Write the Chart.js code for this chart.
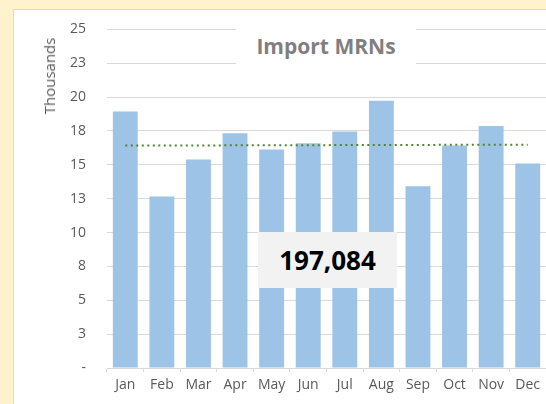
<!DOCTYPE html>
<html>
<head>
<meta charset="utf-8">
<script src="https://cdn.jsdelivr.net/npm/chart.js@4.4.1/dist/chart.umd.min.js"></script>
<style>
  html, body { margin: 0; padding: 0; }
  body { width: 546px; height: 404px; overflow: hidden; background: #fff2cc; position: relative; font-family: "Open Sans", sans-serif; }
  #frame { position: absolute; left: 13px; top: 9px; width: 600px; height: 450px; background: #fff; border: 1px solid #d9d9d9; }
  #wrap { position: absolute; left: 0; top: 0; width: 546px; height: 404px; }
  #unit { position: absolute; left: 49px; top: 76px; transform: translate(-50%, -50%) rotate(-90deg); color: #595959; font-size: 15px; white-space: nowrap; }
  #title { position: absolute; left: 236px; top: 22px; width: 180px; height: 48px; background: #fff; color: #7f7f7f; font-weight: bold; font-size: 21px; line-height: 48px; text-align: center; }
  #total { position: absolute; left: 258px; top: 232px; width: 139px; height: 56px; background: #f2f2f2; color: #000; font-weight: bold; font-size: 26px; line-height: 56px; text-align: center; }
</style>
</head>
<body>
<div id="frame"></div>
<div id="wrap"><canvas id="chart"></canvas></div>
<div id="unit">Thousands</div>
<div id="title">Import MRNs</div>
<div id="total"></div>
<script>
// monthly import MRNs
const months = ['Jan', 'Feb', 'Mar', 'Apr', 'May', 'Jun', 'Jul', 'Aug', 'Sep', 'Oct', 'Nov', 'Dec'];
const mrns = [18940, 12660, 15400, 17330, 16140, 16600, 17460, 19740, 13410, 16430, 17870, 15104];
// linear trendline, read at Jan and Dec
const trendMonths = ['Jan', 'Dec'];
const trendValues = [16420, 16490];
const yTicks = [0, 2500, 5000, 7500, 10000, 12500, 15000, 17500, 20000, 22500, 25000];

let total = 0;
mrns.forEach((v) => { total += v; });
document.getElementById('total').textContent = total.toLocaleString('en-US');

const trendData = trendMonths.map((m, i) => ({ x: m, y: trendValues[i] }));
const tickFont = { family: 'Open Sans', size: 14 };

new Chart(document.getElementById('chart'), {
  type: 'bar',
  data: {
    labels: months,
    datasets: [
      {
        type: 'line',
        data: trendData,
        borderColor: '#548235',
        borderWidth: 2,
        borderDash: [2, 3.5],
        pointRadius: 0,
        fill: false,
        order: 0
      },
      {
        data: mrns,
        backgroundColor: '#9dc3e6',
        categoryPercentage: 1,
        barPercentage: 0.68,
        order: 1
      }
    ]
  },
  options: {
    responsive: true,
    maintainAspectRatio: false,
    animation: false,
    layout: { padding: { top: 29, right: 0, bottom: 0, left: 0 } },
    plugins: { legend: { display: false }, tooltip: { enabled: false }, title: { display: false } },
    scales: {
      x: {
        grid: { drawOnChartArea: false, drawTicks: true, tickLength: 4, color: '#d9d9d9' },
        border: { color: '#d9d9d9' },
        ticks: { color: '#595959', font: tickFont, padding: 5, maxRotation: 0 },
        afterFit: (scale) => { scale.height = 36; }
      },
      y: {
        min: 0,
        max: 25000,
        afterBuildTicks: (scale) => { scale.ticks = yTicks.map((v) => ({ value: v })); },
        grid: { color: '#d9d9d9', drawTicks: false },
        border: { display: false },
        ticks: {
          color: '#595959',
          font: tickFont,
          padding: 21,
          callback: (v) => (v === 0 ? '-' : Math.round(v / 1000))
        },
        afterFit: (scale) => { scale.width = 107; }
      }
    }
  }
});
</script>
</body>
</html>
